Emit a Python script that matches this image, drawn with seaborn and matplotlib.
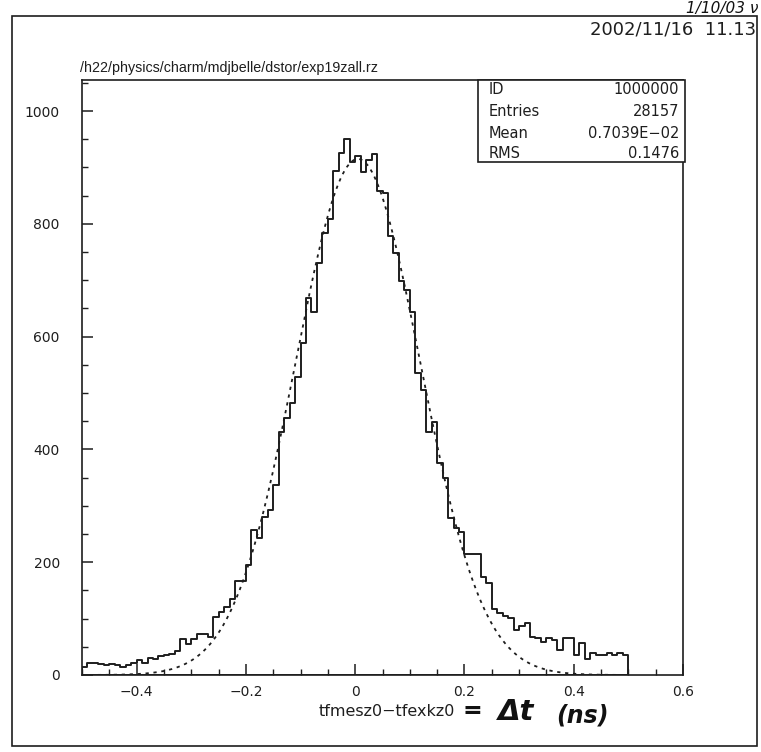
import numpy as np
import pandas as pd
import matplotlib
matplotlib.use("Agg")
import matplotlib.pyplot as plt
import seaborn as sns
from matplotlib.ticker import MultipleLocator
from matplotlib.patches import Rectangle

# histogram: 100 bins from -0.5 to 0.5 (counts)
bin_low, bin_high, n_bins = -0.5, 0.5, 100
counts = [
    15, 22, 21, 19, 18, 20, 18, 14, 18, 21,
    27, 22, 31, 28, 34, 35, 37, 43, 63, 55,
    63, 73, 73, 67, 102, 111, 120, 135, 166, 166,
    195, 257, 243, 281, 293, 337, 430, 456, 483, 529,
    589, 669, 643, 731, 784, 808, 893, 926, 950, 909,
    920, 891, 914, 923, 858, 855, 778, 749, 698, 683,
    643, 536, 506, 430, 448, 376, 350, 279, 261, 254,
    215, 215, 214, 173, 164, 117, 110, 104, 101, 80,
    86, 92, 68, 66, 59, 66, 62, 44, 66, 66,
    35, 57, 28, 39, 36, 36, 39, 36, 39, 36,
]

# gaussian fit drawn as dotted line
fit_amp, fit_mean, fit_sigma = 915, 0.005, 0.114

stat_names = ["ID", "Entries", "Mean", "RMS"]
stat_values = ["1000000", "28157", "0.7039E\u221202", "0.1476"]

xtick_vals = [-0.4, -0.2, 0, 0.2, 0.4, 0.6]
xtick_labels = ["\u22120.4", "\u22120.2", "0", "0.2", "0.4", "0.6"]
ytick_vals = [0, 200, 400, 600, 800, 1000]

file_path = "/h22/physics/charm/mdjbelle/dstor/exp19zall.rz"
date_stamp = "2002/11/16  11.13"
x_title = "tfmesz0\u2212tfexkz0"

ink = "#1e1e1e"

sns.set_theme(style="ticks")
plt.rcParams['font.family'] = ['DejaVu Sans']

fig = plt.figure(figsize=(7.61, 7.52), dpi=100)
W, H = 761, 752
ax = fig.add_axes([82 / W, 1 - 675 / H, (683 - 82) / W, (675 - 80) / H])

edges = np.linspace(bin_low, bin_high, n_bins + 1)
centers = 0.5 * (edges[:-1] + edges[1:])
df = pd.DataFrame({"dt": centers, "n": counts})

sns.histplot(data=df, x="dt", weights="n", bins=n_bins, binrange=(bin_low, bin_high),
             element="step", fill=True, color=ink, linewidth=1.4, ax=ax)
# keep only the outline of the step histogram (drops to 0 at both ends)
for coll in ax.collections:
    coll.set_facecolor("none")
    coll.set_edgecolor(ink)
    coll.set_linewidth(1.4)

xs = np.linspace(bin_low, bin_high, 500)
fit = pd.DataFrame({"x": xs,
                    "y": fit_amp * np.exp(-0.5 * ((xs - fit_mean) / fit_sigma) ** 2)})
sns.lineplot(data=fit, x="x", y="y", color=ink, linewidth=1.3,
             linestyle=(0, (1.8, 2.6)), ax=ax)

ax.set_xlim(-0.5, 0.6)
ax.set_ylim(0, 1055)
ax.set_xlabel("")
ax.set_ylabel("")
ax.set_xticks(xtick_vals)
ax.set_xticklabels(xtick_labels)
ax.set_yticks(ytick_vals)
ax.xaxis.set_minor_locator(MultipleLocator(0.05))
ax.yaxis.set_minor_locator(MultipleLocator(50))
ax.tick_params(which="major", direction="in", length=8, width=1.1,
               colors=ink, labelsize=10, top=False, right=False)
ax.tick_params(which="minor", direction="in", length=4, width=1.0,
               colors=ink, top=False, right=False)
ax.tick_params(axis="x", pad=7)
ax.tick_params(axis="y", pad=16)
for s in ax.spines.values():
    s.set_visible(True)
    s.set_color(ink)
    s.set_linewidth(1.2)

# stats box
bx0, bx1, by0, by1 = 478, 685, 80, 162
fig.add_artist(Rectangle((bx0 / W, 1 - by1 / H), (bx1 - bx0) / W, (by1 - by0) / H,
                         transform=fig.transFigure, fill=True, facecolor="white",
                         edgecolor=ink, linewidth=1.2))
row_y = [90, 111, 133, 154]
for name, val, ry in zip(stat_names, stat_values, row_y):
    fig.text(489 / W, 1 - ry / H, name, ha="left", va="center", fontsize=10.5, color=ink)
    fig.text(679 / W, 1 - ry / H, val, ha="right", va="center", fontsize=10.5, color=ink)

fig.text(80 / W, 1 - 68 / H, file_path, ha="left", va="center", fontsize=10.3,
         family="Liberation Sans", color=ink)
fig.text(756 / W, 1 - 30 / H, date_stamp, ha="right", va="center", fontsize=13,
         color=ink)
fig.text(455 / W, 1 - 711 / H, x_title, ha="right", va="center", fontsize=11.5, color=ink)

# handwritten note
fig.text(472 / W, 1 - 711 / H, "=", ha="center", va="center", fontsize=17,
         fontweight="bold", color="#111111")
fig.text(516 / W, 1 - 712 / H, "\u0394t", ha="center", va="center", fontsize=21,
         fontstyle="italic", fontweight="bold", color="#111111")
fig.text(582 / W, 1 - 716 / H, "(ns)", ha="center", va="center", fontsize=17,
         fontstyle="italic", fontweight="bold", color="#111111")
fig.text(758 / W, 1 - 8 / H, "1/10/03 \u03bd", ha="right", va="center", fontsize=11,
         fontstyle="italic", color="#111111")

# page frame
fig.add_artist(Rectangle((12 / W, 1 - 746 / H), (757 - 12) / W, (746 - 16) / H,
                         transform=fig.transFigure, fill=False,
                         edgecolor=ink, linewidth=1.2))

fig.savefig("out.png", dpi=100)
